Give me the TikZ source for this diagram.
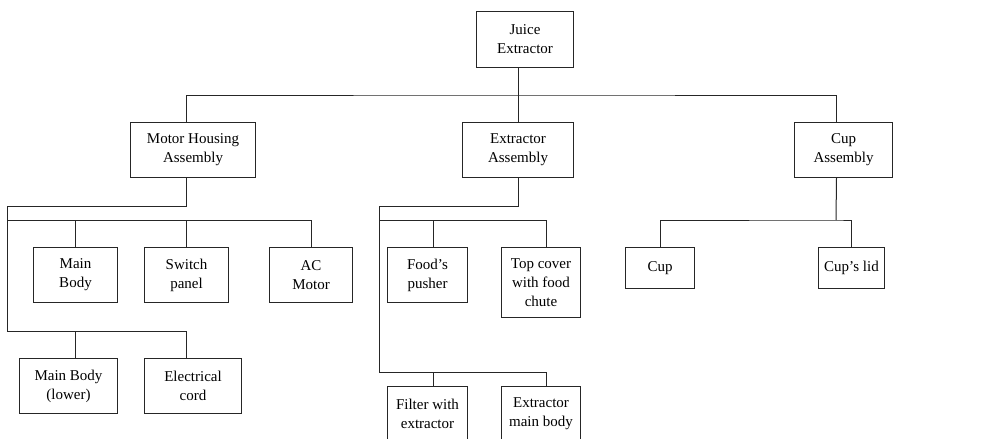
\documentclass[tikz,border=0pt]{standalone}
\usepackage{fontspec}
\setmainfont{Liberation Serif}
\begin{document}
\begin{tikzpicture}[x=1pt,y=-1pt,
  box/.style={draw=black!85, line width=1pt, anchor=north west, inner sep=0pt,
    align=center, font=\fontsize{15}{19}\selectfont},
  link/.style={draw=black!85, line width=1pt}]
\useasboundingbox (0,0) rectangle (997,439);
\clip (0,0) rectangle (997,439);

% top level
\node[box, minimum width=97, minimum height=56] (root) at (476,11) {Juice\\Extractor};
\node[box, minimum width=125, minimum height=55] (mh) at (130,122) {Motor Housing\\Assembly};
\node[box, minimum width=111, minimum height=55] (ea) at (462,122) {Extractor\\Assembly};
\node[box, minimum width=98, minimum height=55] (ca) at (794,122) {Cup\\Assembly};

% motor housing parts
\node[box, minimum width=84, minimum height=55] (mb) at (33,247) {Main\\Body};
\node[box, minimum width=84, minimum height=55] (sp) at (144,247) {Switch\\panel};
\node[box, minimum width=83, minimum height=55] (ac) at (269,247) {AC\\Motor};
\node[box, minimum width=98, minimum height=55] (ml) at (19,358) {Main Body\\(lower)};
\node[box, minimum width=97, minimum height=55] (ec) at (144,358) {Electrical\\cord};

% extractor parts
\node[box, minimum width=80, minimum height=55] (fp) at (387,247) {Food’s\\pusher};
\node[box, minimum width=79, minimum height=70] (tc) at (501,247) {Top cover\\with food\\chute};
\node[box, minimum width=80, minimum height=55] (fe) at (387,386) {Filter with\\extractor};
\node[box, minimum width=79, minimum height=55] (em) at (501,386) {Extractor\\main body};

% cup parts
\node[box, minimum width=69, minimum height=41] (cup) at (625,247) {Cup};
\node[box, minimum width=66, minimum height=41] (cl) at (818,247) {Cup’s lid};

% bus points
\coordinate (bus1) at (517,95);
\coordinate (mhl) at (7,206);
\coordinate (mhbus) at (7,220);
\coordinate (mhb) at (7,331);
\coordinate (eal) at (379,206);
\coordinate (eabus) at (379,220);
\coordinate (eab) at (379,372);
\coordinate (cabus) at (836,220);

% top level connectors
\draw[link] (root.south -| ea.north) -- (ea.north);
\draw[link] ([xshift=-6.5pt]mh.north) |- (bus1) -| ([xshift=-7pt]ca.north);

% motor housing connectors
\draw[link] ([xshift=-6.5pt]mh.south) |- (mhl) -- (mhb);
\draw[link] (mhbus) -| (ac.north);
\draw[link] (mb.north) -- (mb.north |- mhbus);
\draw[link] (sp.north) -- (sp.north |- mhbus);
\draw[link] (mhb) -| ([xshift=-6.5pt]ec.north);
\draw[link] ([xshift=7pt]ml.north) -- ([xshift=7pt]ml.north |- mhb);

% extractor connectors
\draw[link] (ea.south) |- (eal) -- (eab);
\draw[link] (eabus) -| ([xshift=5.5pt]tc.north);
\draw[link] ([xshift=6pt]fp.north) -- ([xshift=6pt]fp.north |- eabus);
\draw[link] (eab) -| ([xshift=5.5pt]em.north);
\draw[link] ([xshift=6pt]fe.north) -- ([xshift=6pt]fe.north |- eab);

% cup connectors
\draw[link] ([xshift=-7pt]ca.south) -- (cabus);
\draw[link] (cup.north) |- (cabus) -| (cl.north);
\end{tikzpicture}
\end{document}
